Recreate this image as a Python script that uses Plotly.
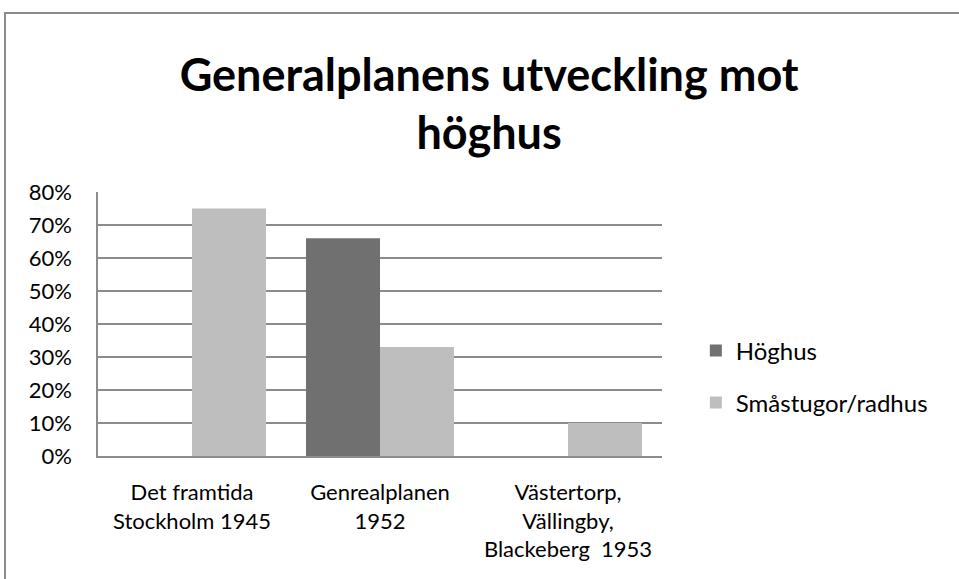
import plotly.graph_objects as go

categories = ["Det framtida<br>Stockholm 1945", "Genrealplanen<br>1952", "Västertorp,<br>Vällingby,<br>Blackeberg  1953"]
hoghus = [None, 0.66, None]
smastugor = [0.75, 0.33, 0.10]
y_ticks = [0, 0.1, 0.2, 0.3, 0.4, 0.5, 0.6, 0.7, 0.8]
y_labels = ["0%", "10%", "20%", "30%", "40%", "50%", "60%", "70%", "80%"]

FONT = "Lato, 'Noto Sans', sans-serif"

fig = go.Figure()
fig.add_trace(go.Bar(name="Höghus", x=categories, y=hoghus, marker_color="#707070",
                     marker_line_width=0, legendgroup="a"))
fig.add_trace(go.Bar(name="Småstugor/radhus", x=categories, y=smastugor, marker_color="#bebebe",
                     marker_line_width=0, legendgroup="b"))

fig.update_layout(
    width=959, height=579,
    margin=dict(l=98, r=297, t=192, b=123),
    paper_bgcolor="white", plot_bgcolor="white",
    barmode="group", bargap=0.213, bargroupgap=0,
    font=dict(family=FONT, size=22, color="black"),
    title=dict(text="<b>Generalplanens utveckling mot<br>höghus</b>",
               font=dict(family=FONT, size=45, color="black"),
               x=0.51, xanchor="center", y=0.843, yanchor="top"),
    legend=dict(x=1.06, xanchor="left", y=0.30, yanchor="middle",
                font=dict(size=24), tracegroupgap=18, bgcolor="rgba(0,0,0,0)"),
    showlegend=True,
)
fig.update_yaxes(range=[0, 0.8], tickvals=y_ticks, ticktext=y_labels,
                 showgrid=True, gridcolor="#8c8c8c", gridwidth=1.5,
                 showline=True, linecolor="#8c8c8c", linewidth=1.5,
                 ticks="", ticklabelstandoff=20, zeroline=False)
fig.update_xaxes(showline=True, linecolor="#8c8c8c", linewidth=1.5, ticks="",
                 ticklabelstandoff=16, tickangle=0)
fig.add_shape(type="rect", xref="paper", yref="paper",
              x0=(5 - 98) / 564, x1=(1000 - 98) / 564,
              y0=(456 - 700) / 264, y1=(456 - 13) / 264,
              line=dict(color="#8c8c8c", width=2), fillcolor="rgba(0,0,0,0)", layer="below")

fig.write_html("out.html", config={"displayModeBar": False},
               post_script="document.body.style.margin='0';document.body.style.overflow='hidden';")
